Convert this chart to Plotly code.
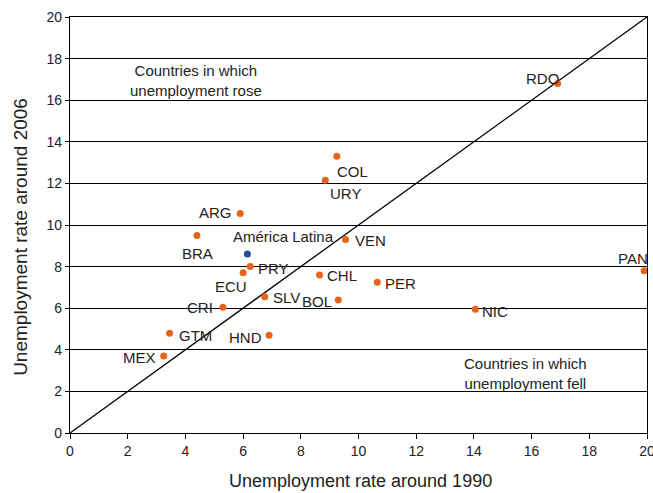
import plotly.graph_objects as go

countries = ["RDO", "COL", "URY", "ARG", "BRA", "VEN", "PRY", "ECU", "CHL", "PER",
             "PAN", "NIC", "BOL", "SLV", "CRI", "GTM", "HND", "MEX"]
rate_1990 = [16.9, 9.25, 8.85, 5.9, 4.4, 9.55, 6.25, 6.0, 8.65, 10.65,
             19.9, 14.05, 9.3, 6.75, 5.3, 3.45, 6.9, 3.25]
rate_2006 = [16.8, 13.3, 12.15, 10.55, 9.5, 9.3, 8.0, 7.7, 7.6, 7.25,
             7.8, 5.95, 6.4, 6.55, 6.05, 4.8, 4.7, 3.7]

region_name = ["América Latina"]
region_1990 = [6.15]
region_2006 = [8.6]

diag_x = [0, 20]
diag_y = [0, 20]

# label placement styles (xanchor, xshift, yshift)
label_style = {
    "RDO": ("right", 3, 5), "COL": ("left", -2, -15), "URY": ("left", 3, -13),
    "ARG": ("right", -6, 1), "BRA": ("center", 1, -18), "VEN": ("left", 7, -1),
    "PRY": ("left", 6, -2), "ECU": ("right", 6, -14), "CHL": ("left", 5, -1),
    "PER": ("left", 6, -1), "PAN": ("right", 6, 12), "NIC": ("left", 5, -2),
    "BOL": ("right", -4, -2), "SLV": ("left", 6, -1), "CRI": ("right", -8, 0),
    "GTM": ("left", 7, -2), "HND": ("right", -5, -2), "MEX": ("right", -6, -1),
    "América Latina": ("left", -16, 18),
}

FONT = "Liberation Sans, Arial, Helvetica, sans-serif"
TXT = "#222222"

fig = go.Figure()
fig.add_trace(go.Scatter(x=diag_x, y=diag_y, mode="lines",
                         line=dict(color="black", width=1.3), hoverinfo="skip"))
fig.add_trace(go.Scatter(x=rate_1990, y=rate_2006, mode="markers",
                         marker=dict(color="#E8641B", size=7, line=dict(width=0)),
                         cliponaxis=False))
fig.add_trace(go.Scatter(x=region_1990, y=region_2006, mode="markers",
                         marker=dict(color="#2B4A96", size=7, line=dict(width=0)),
                         cliponaxis=False))

for name, xv, yv in list(zip(countries, rate_1990, rate_2006)) + list(zip(region_name, region_1990, region_2006)):
    anc, xs, ys = label_style[name]
    fig.add_annotation(x=xv, y=yv, text=name, showarrow=False, xanchor=anc,
                       yanchor="middle", xshift=xs, yshift=ys,
                       font=dict(family=FONT, size=15, color=TXT))

fig.add_annotation(x=4.37, y=16.97, text="Countries in which<br>unemployment rose",
                   showarrow=False, font=dict(family=FONT, size=15, color=TXT),
                   align="center")
fig.add_annotation(x=15.8, y=2.84, text="Countries in which<br>unemployment fell",
                   showarrow=False, font=dict(family=FONT, size=15, color=TXT),
                   align="center")

# axis titles
fig.add_annotation(xref="paper", yref="paper", x=0.503, y=-0.115,
                   text="Unemployment rate around 1990", showarrow=False,
                   xanchor="center", yanchor="middle",
                   font=dict(family=FONT, size=18, color=TXT))
fig.add_annotation(xref="paper", yref="paper", x=-0.087, y=0.471,
                   text="Unemployment rate around 2006", showarrow=False,
                   xanchor="center", yanchor="middle", textangle=-90,
                   font=dict(family=FONT, size=19, color=TXT))

fig.update_layout(
    width=653, height=493,
    margin=dict(l=70, r=6, t=17, b=60),
    paper_bgcolor="white", plot_bgcolor="white",
    showlegend=False,
    font=dict(family=FONT, color=TXT),
    xaxis=dict(range=[0, 20], tickvals=list(range(0, 21, 2)),
               showgrid=False, zeroline=False, automargin=False,
               ticklabeloverflow="allow",
               showline=True, linecolor="black", linewidth=1.3, mirror=True,
               ticks="outside", ticklen=5, tickcolor="black",
               tickfont=dict(size=14, family=FONT)),
    yaxis=dict(range=[0, 20], tickvals=list(range(0, 21, 2)),
               showgrid=True, gridcolor="black", gridwidth=1, zeroline=False,
               automargin=False, ticklabeloverflow="allow",
               showline=True, linecolor="black", linewidth=1.3, mirror=True,
               ticks="outside", ticklen=4, tickcolor="black",
               tickfont=dict(size=14, family=FONT)),
)

fig.write_html("out.html", config={"displayModeBar": False},
               post_script="document.body.style.margin='0';document.body.style.overflow='hidden';")
